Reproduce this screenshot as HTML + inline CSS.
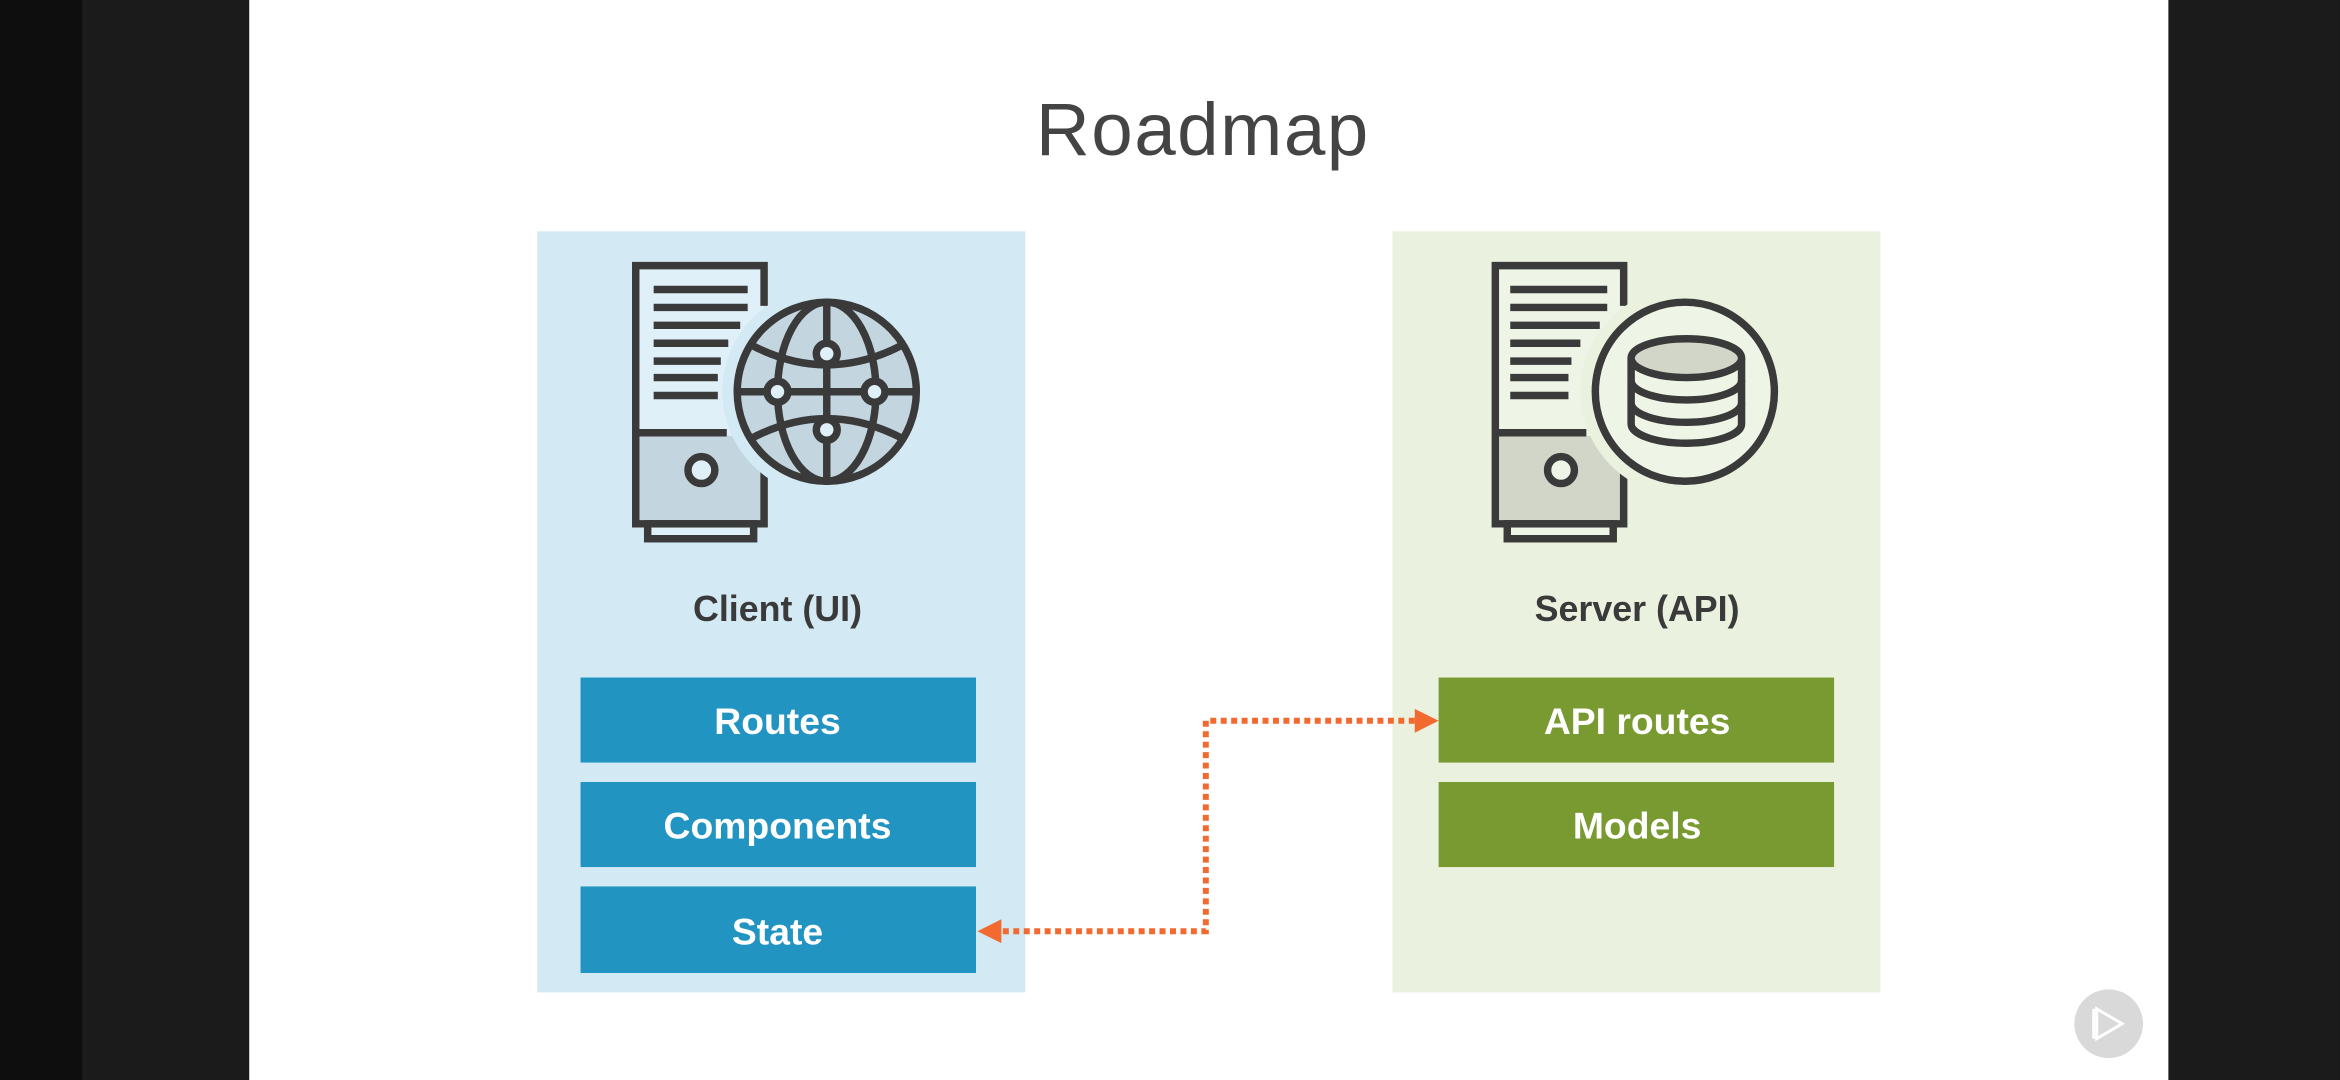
<!DOCTYPE html>
<html><head><meta charset="utf-8"><style>
html,body{margin:0;padding:0;background:#000;}
svg{display:block;}
</style></head><body>
<svg width="2340" height="1080" viewBox="0 0 1568 723.7" xmlns="http://www.w3.org/2000/svg" font-family="Liberation Sans, sans-serif">
<rect x="0" y="0" width="1568" height="724" fill="#1b1b1b"/>
<rect x="0" y="0" width="55" height="724" fill="#0e0e0e"/>
<rect x="167" y="0" width="1286" height="724" fill="#ffffff"/>
<text x="806" y="104" text-anchor="middle" font-size="50" fill="#444444" letter-spacing="1">Roadmap</text>

<!-- panels -->
<rect x="360" y="155" width="327" height="510" fill="#d3eaf4"/>
<rect x="933" y="155" width="327" height="510" fill="#eaf2df"/>

<!-- client icon -->
<g stroke="#3a3a3a" stroke-width="5" fill="none">
  <rect x="426" y="292" width="86" height="59" fill="#c3d5de" stroke="none"/>
  <rect x="426" y="178" width="86" height="114" fill="#e0f0f8" stroke="none"/>
  <polyline points="512,205 512,178 426,178 426,351 512,351 512,298"/>
  <rect x="434" y="351" width="71" height="10" fill="#e0f0f8"/>
  <line x1="426" y1="290" x2="487" y2="290"/>
  <circle cx="470" cy="315" r="9" fill="#e0f0f8"/>
  <g stroke-width="5">
    <line x1="438" y1="194" x2="501" y2="194"/>
    <line x1="438" y1="206" x2="501" y2="206"/>
    <line x1="438" y1="218" x2="496" y2="218"/>
    <line x1="438" y1="230" x2="488" y2="230"/>
    <line x1="438" y1="242" x2="483" y2="242"/>
    <line x1="438" y1="253" x2="481" y2="253"/>
    <line x1="438" y1="265" x2="481" y2="265"/>
  </g>
  <circle cx="554" cy="262.5" r="70" fill="#d3eaf4" stroke="none"/>
  <circle cx="554" cy="262.5" r="60" fill="#c3d5de"/>
  <ellipse cx="554" cy="262.5" rx="33" ry="60"/>
  <line x1="554" y1="202" x2="554" y2="323"/>
  <line x1="494" y1="262.5" x2="614" y2="262.5"/>
  <path d="M503,231 Q554,258 605,231"/>
  <path d="M503,294 Q554,267 605,294"/>
  <g fill="#e0f0f8" stroke-width="5">
    <circle cx="554" cy="237" r="7"/>
    <circle cx="554" cy="288" r="7"/>
    <circle cx="521" cy="262.5" r="7"/>
    <circle cx="586" cy="262.5" r="7"/>
  </g>
</g>

<!-- server icon -->
<g stroke="#3a3a3a" stroke-width="5" fill="none">
  <rect x="1002" y="292" width="86" height="59" fill="#d2d6c8" stroke="none"/>
  <rect x="1002" y="178" width="86" height="114" fill="#eef4e6" stroke="none"/>
  <polyline points="1088,205 1088,178 1002,178 1002,351 1088,351 1088,298"/>
  <rect x="1010" y="351" width="71" height="10" fill="#eef4e6"/>
  <line x1="1002" y1="290" x2="1063" y2="290"/>
  <circle cx="1046" cy="315" r="9" fill="#eef4e6"/>
  <line x1="1012" y1="194" x2="1077" y2="194"/>
  <line x1="1012" y1="206" x2="1077" y2="206"/>
  <line x1="1012" y1="218" x2="1072" y2="218"/>
  <line x1="1012" y1="230" x2="1059" y2="230"/>
  <line x1="1012" y1="242" x2="1053" y2="242"/>
  <line x1="1012" y1="253" x2="1051" y2="253"/>
  <line x1="1012" y1="265" x2="1051" y2="265"/>
  <circle cx="1129" cy="262.5" r="70" fill="#eaf2df" stroke="none"/>
  <circle cx="1129" cy="262.5" r="60" fill="#eef4e6"/>
  <path d="M1093,240 L1093,284 A37,13 0 0 0 1167,284 L1167,240" fill="#eef4e6"/>
  <ellipse cx="1130" cy="240" rx="37" ry="13" fill="#d2d6c8"/>
  <path d="M1093,255 A37,13 0 0 0 1167,255"/>
  <path d="M1093,270 A37,13 0 0 0 1167,270"/>
</g>

<g font-size="24" font-weight="bold" fill="#3a3a3a" text-anchor="middle">
  <text x="521" y="416">Client (UI)</text>
  <text x="1097" y="416">Server (API)</text>
</g>

<!-- boxes -->
<g fill="#2294c1">
  <rect x="389" y="454" width="265" height="57"/>
  <rect x="389" y="524" width="265" height="57"/>
  <rect x="389" y="594" width="265" height="58"/>
</g>
<g fill="#789a31">
  <rect x="964" y="454" width="265" height="57"/>
  <rect x="964" y="524" width="265" height="57"/>
</g>
<g font-size="25" font-weight="bold" fill="#ffffff" text-anchor="middle">
  <text x="521" y="492">Routes</text>
  <text x="521" y="562">Components</text>
  <text x="521" y="633">State</text>
  <text x="1097" y="492">API routes</text>
  <text x="1097" y="562">Models</text>
</g>

<!-- connector -->
<path d="M948,483 L808,483 L808,624 L670,624" fill="none" stroke="#f26a2f" stroke-width="4" stroke-dasharray="4,3"/>
<polygon points="964,483 948,475 948,491" fill="#f26a2f"/>
<polygon points="655,624 671,616 671,632" fill="#f26a2f"/>

<!-- play button -->
<circle cx="1413" cy="686" r="23" fill="#d9d9d9"/>
<path d="M1405,676 L1405,696 L1422,686 Z" fill="none" stroke="#ffffff" stroke-width="2"/>
<line x1="1403" y1="676" x2="1403" y2="696" stroke="#fff" stroke-width="2"/>
</svg>
</body></html>
